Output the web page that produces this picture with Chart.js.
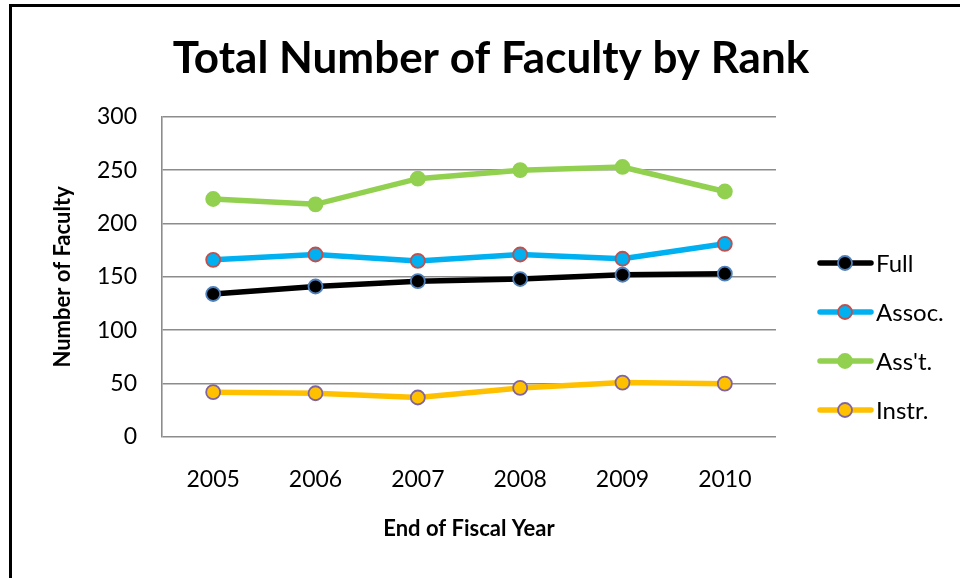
<!DOCTYPE html>
<html>
<head>
<meta charset="utf-8">
<script src="https://cdn.jsdelivr.net/npm/chart.js@4"></script>
<style>
  html, body { margin: 0; padding: 0; background: #fff; }
  #wrap { position: relative; width: 960px; height: 578px; }
  #frame { position: absolute; left: 9px; top: 4px; right: -4px; bottom: -4px; border: 3px solid #000; }
  canvas { position: absolute; left: 0; top: 0; }
</style>
</head>
<body>
<div id="wrap">
  <canvas id="chart" width="960" height="578"></canvas>
  <div id="frame"></div>
</div>
<script>
const years = ['2005', '2006', '2007', '2008', '2009', '2010'];
const full = [134, 141, 146, 148, 152, 153];
const assoc = [166, 171, 165, 171, 167, 181];
const asst = [223, 218, 242, 250, 253, 230];
const instr = [42, 41, 37, 46, 51, 50];
const seriesNames = ['Full', 'Assoc.', "Ass't.", 'Instr.'];

const FONT = 'Lato, "Open Sans", sans-serif';

function series(label, data, line, fill, edge) {
  return {
    label, data,
    borderColor: line, borderWidth: 5.5,
    pointRadius: 7, pointHoverRadius: 7,
    pointBackgroundColor: fill, pointBorderColor: edge, pointBorderWidth: 1.8,
    tension: 0
  };
}

// legend drawn by hand: line + marker + label, stacked on the right
const sideLegend = {
  id: 'sideLegend',
  afterDraw(chart) {
    const ctx = chart.ctx;
    ctx.save();
    chart.data.datasets.forEach((ds, i) => {
      const y = 263 + i * 49;
      ctx.strokeStyle = ds.borderColor;
      ctx.lineWidth = 5.5;
      ctx.lineCap = 'round';
      ctx.beginPath();
      ctx.moveTo(820, y);
      ctx.lineTo(871, y);
      ctx.stroke();
      ctx.beginPath();
      ctx.arc(845, y, 7, 0, Math.PI * 2);
      ctx.fillStyle = ds.pointBackgroundColor;
      ctx.fill();
      ctx.lineWidth = 1.8;
      ctx.strokeStyle = ds.pointBorderColor;
      ctx.stroke();
      ctx.fillStyle = '#000';
      ctx.font = '24px ' + FONT;
      ctx.textBaseline = 'middle';
      ctx.fillText(ds.label, 876, y + 1);
    });
    ctx.restore();
  }
};

new Chart(document.getElementById('chart'), {
  type: 'line',
  data: {
    labels: years,
    datasets: [
      series(seriesNames[0], full, '#000000', '#000000', '#4f81bd'),
      series(seriesNames[1], assoc, '#00b0f0', '#00b0f0', '#c0504d'),
      series(seriesNames[2], asst, '#92d050', '#92d050', '#92d050'),
      series(seriesNames[3], instr, '#ffc000', '#ffc000', '#8064a2')
    ]
  },
  options: {
    responsive: false,
    animation: false,
    layout: {padding: {left: 22, right: 0, top: 0, bottom: 0}},
    plugins: {
      legend: {display: false},
      tooltip: {enabled: false},
      title: {
        display: true,
        text: 'Total Number of Faculty by Rank',
        color: '#000',
        font: {family: FONT, size: 44, weight: 'bold', lineHeight: 1.2},
        padding: {top: 32, bottom: 32}
      }
    },
    scales: {
      x: {
        offset: true,
        grid: {display: false},
        border: {display: false},
        ticks: {color: '#000', font: {family: FONT, size: 23}, padding: 21},
        title: {
          display: true, text: 'End of Fiscal Year', color: '#000',
          font: {family: FONT, size: 22, weight: 'bold'}, padding: {top: 0, bottom: 36}
        },
        afterFit(s) { s.height = 141; }
      },
      y: {
        min: 0, max: 300,
        ticks: {
          stepSize: 25, color: '#000', font: {family: FONT, size: 23}, padding: 25,
          callback: v => (v % 50 === 0 ? v : '')
        },
        grid: {
          drawTicks: false,
          color: c => (c.tick && c.tick.value % 50 === 0 ? '#8c8c8c' : '#cfcfcf'),
          lineWidth: 1.6
        },
        border: {display: true, color: '#8c8c8c', width: 1.6},
        title: {
          display: true, text: 'Number of Faculty', color: '#000',
          font: {family: FONT, size: 22, weight: 'bold'}, padding: {top: 28, bottom: 0}
        },
        afterFit(s) { s.width = 140; }
      },
      // empty right-hand axis keeps room for the legend so the title stays centred like the original
      side: {
        position: 'right',
        grid: {display: false},
        border: {display: false},
        ticks: {display: false},
        afterFit(s) { s.width = 184; }
      }
    }
  },
  plugins: [sideLegend]
});
</script>
</body>
</html>
